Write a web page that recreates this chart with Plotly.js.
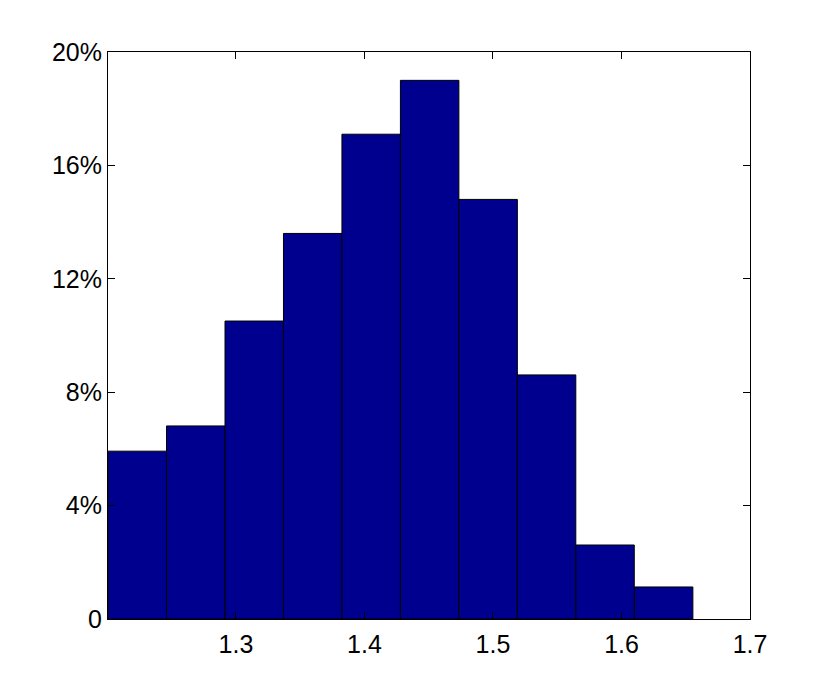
<!DOCTYPE html>
<html>
<head>
<meta charset="utf-8">
<script src="https://cdn.plot.ly/plotly-3.0.1.min.js"></script>
<style>
  html, body { margin: 0; padding: 0; background: #fff; }
  #chart { width: 829px; height: 696px; }
</style>
</head>
<body>
<div id="chart"></div>
<script>
// histogram bins (centres) and share of observations in percent
var binCenters = [1.2232, 1.2687, 1.3142, 1.3597, 1.4052, 1.4507, 1.4962, 1.5417, 1.5872, 1.6328];
var binWidth = 0.0455;
var sharePct = [5.92, 6.81, 10.51, 13.60, 17.10, 19.00, 14.80, 8.61, 2.61, 1.13];

var yTickVals = [0, 4, 8, 12, 16, 20];
var yTickText = ['0', '4%', '8%', '12%', '16%', '20%'];
var xTickVals = [1.3, 1.4, 1.5, 1.6, 1.7];

var trace = {
  type: 'bar',
  x: binCenters,
  y: sharePct,
  width: binWidth,
  marker: {
    color: 'rgb(0,0,143)',
    line: { color: 'black', width: 1 }
  },
  hoverinfo: 'x+y'
};

var layout = {
  width: 829,
  height: 696,
  margin: { l: 108, r: 79, t: 52, b: 77 },
  paper_bgcolor: 'white',
  plot_bgcolor: 'white',
  showlegend: false,
  font: { family: 'Liberation Sans, Arial, sans-serif', size: 25, color: 'black' },
  xaxis: {
    range: [1.2004, 1.7],
    tickvals: xTickVals,
    ticktext: xTickVals.map(function (v) { return v.toFixed(1); }),
    ticks: 'inside',
    ticklen: 7,
    tickcolor: 'black',
    showline: true,
    linecolor: 'black',
    linewidth: 1,
    mirror: 'ticks',
    showgrid: false,
    zeroline: false,
    ticklabelstandoff: 3
  },
  yaxis: {
    range: [0, 20],
    tickvals: yTickVals,
    ticktext: yTickText,
    ticks: 'inside',
    ticklen: 7,
    tickcolor: 'black',
    showline: true,
    linecolor: 'black',
    linewidth: 1,
    mirror: 'ticks',
    showgrid: false,
    zeroline: false,
    ticklabelstandoff: 0
  },
  bargap: 0
};

Plotly.newPlot('chart', [trace], layout, { displayModeBar: false, staticPlot: true });
</script>
</body>
</html>
